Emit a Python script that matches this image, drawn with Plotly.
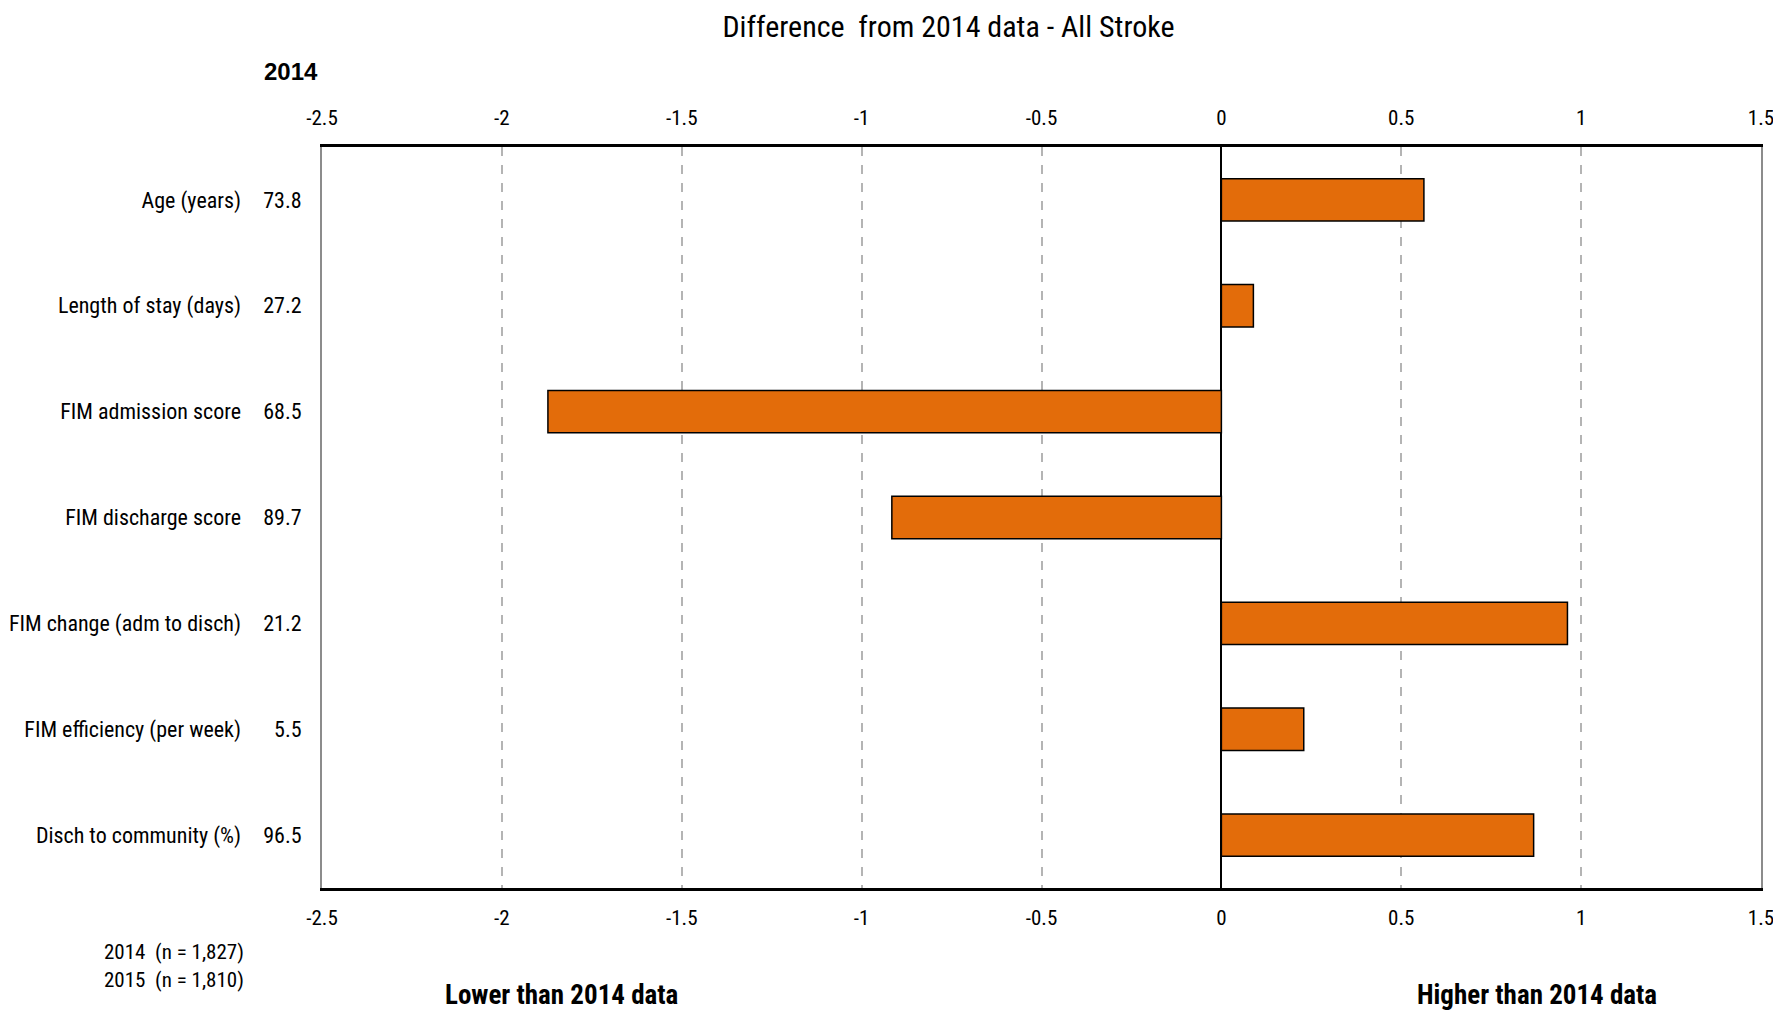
import plotly.graph_objects as go

# measures, 2014 reference values and 2015 - 2014 differences
measures = [
    "Age (years)",
    "Length of stay (days)",
    "FIM admission score",
    "FIM discharge score",
    "FIM change (adm to disch)",
    "FIM efficiency (per week)",
    "Disch to community (%)",
]
values_2014 = ["73.8", "27.2", "68.5", "89.7", "21.2", "5.5", "96.5"]
differences = [0.563, 0.089, -1.872, -0.916, 0.962, 0.229, 0.868]
x_ticks = [-2.5, -2, -1.5, -1, -0.5, 0, 0.5, 1, 1.5]
x_ticktext = ["-2.5", "-2", "-1.5", "-1", "-0.5", "0", "0.5", "1", "1.5"]
sample_notes = ["2014  (n = 1,827)", "2015  (n = 1,810)"]

FONT = "Liberation Sans Narrow, Arial Narrow, Roboto Condensed, Liberation Sans, sans-serif"
ORANGE = "#E36C0A"
Y_RANGE = [len(measures) - 0.5, -0.5]

fig = go.Figure()
fig.add_trace(
    go.Bar(
        x=differences,
        y=measures,
        orientation="h",
        width=0.4,
        marker=dict(color=ORANGE, line=dict(color="black", width=1.5)),
        hoverinfo="x+y",
        showlegend=False,
    )
)
# invisible trace so the second (names) axis has categories
fig.add_trace(
    go.Scatter(
        x=[0] * len(measures),
        y=measures,
        yaxis="y2",
        xaxis="x",
        mode="markers",
        marker=dict(opacity=0),
        hoverinfo="skip",
        showlegend=False,
    )
)
# and one for the top x-axis
fig.add_trace(
    go.Scatter(
        x=[0],
        y=[measures[0]],
        xaxis="x2",
        yaxis="y",
        mode="markers",
        marker=dict(opacity=0),
        hoverinfo="skip",
        showlegend=False,
    )
)

xaxis_common = dict(
    range=[-2.5, 1.5],
    tickvals=x_ticks,
    ticktext=x_ticktext,
    tickfont=dict(family=FONT, size=21, color="black"),
    ticks="",
    automargin=False,
)

# page body adds an 8px margin, so the figure is 8px smaller
fig.update_layout(
    width=1773,
    height=1008,
    margin=dict(l=314, r=20, t=139, b=128, autoexpand=False),
    plot_bgcolor="white",
    paper_bgcolor="white",
    font=dict(family=FONT, color="black"),
    title=dict(
        text="Difference  from 2014 data - All Stroke",
        x=0.5305,
        xanchor="center",
        y=0.982,
        yanchor="middle",
        font=dict(family=FONT, size=30, color="black"),
    ),
    xaxis=dict(
        **xaxis_common,
        side="bottom",
        showline=True,
        linecolor="black",
        linewidth=3,
        mirror=True,
        showgrid=True,
        gridcolor="#b4b4b4",
        gridwidth=1.5,
        griddash="dash",
        zeroline=True,
        zerolinecolor="black",
        zerolinewidth=1.5,
        ticklabelstandoff=9,
    ),
    xaxis2=dict(
        **xaxis_common,
        overlaying="x",
        matches="x",
        side="top",
        showgrid=False,
        zeroline=False,
        showline=False,
        ticklabelstandoff=17,
    ),
    yaxis=dict(
        type="category",
        categoryarray=measures,
        range=Y_RANGE,
        tickvals=measures,
        ticktext=values_2014,
        tickfont=dict(family=FONT, size=22, color="black"),
        ticks="",
        showline=True,
        linecolor="#8c8c8c",
        linewidth=2,
        mirror=True,
        showgrid=False,
        zeroline=False,
        automargin=False,
        ticklabelstandoff=14,
    ),
    yaxis2=dict(
        type="category",
        categoryarray=measures,
        range=Y_RANGE,
        overlaying="y",
        side="left",
        tickfont=dict(family=FONT, size=22, color="black"),
        ticks="",
        showgrid=False,
        zeroline=False,
        automargin=False,
        ticklabelstandoff=80,
    ),
)

fig.add_annotation(
    text="<b>2014</b>",
    xref="paper", yref="paper",
    x=-0.0014, y=1.1017,
    xanchor="right", yanchor="middle",
    showarrow=False,
    font=dict(family="Liberation Sans, Arial, sans-serif", size=24, color="black"),
)

for i, note in enumerate(sample_notes):
    fig.add_annotation(
        text=note,
        xref="paper", yref="paper",
        x=-0.053, y=-0.086 - i * 0.038,
        xanchor="right", yanchor="middle",
        showarrow=False,
        font=dict(family=FONT, size=21, color="black"),
    )

fig.add_annotation(
    text="<b>Lower than 2014 data</b>",
    xref="x", yref="paper",
    x=-1.835, y=-0.145,
    xanchor="center", yanchor="middle",
    showarrow=False,
    font=dict(family=FONT, size=27, color="black"),
)
fig.add_annotation(
    text="<b>Higher than 2014 data</b>",
    xref="x", yref="paper",
    x=0.877, y=-0.145,
    xanchor="center", yanchor="middle",
    showarrow=False,
    font=dict(family=FONT, size=27, color="black"),
)

fig.write_html("out.html")
